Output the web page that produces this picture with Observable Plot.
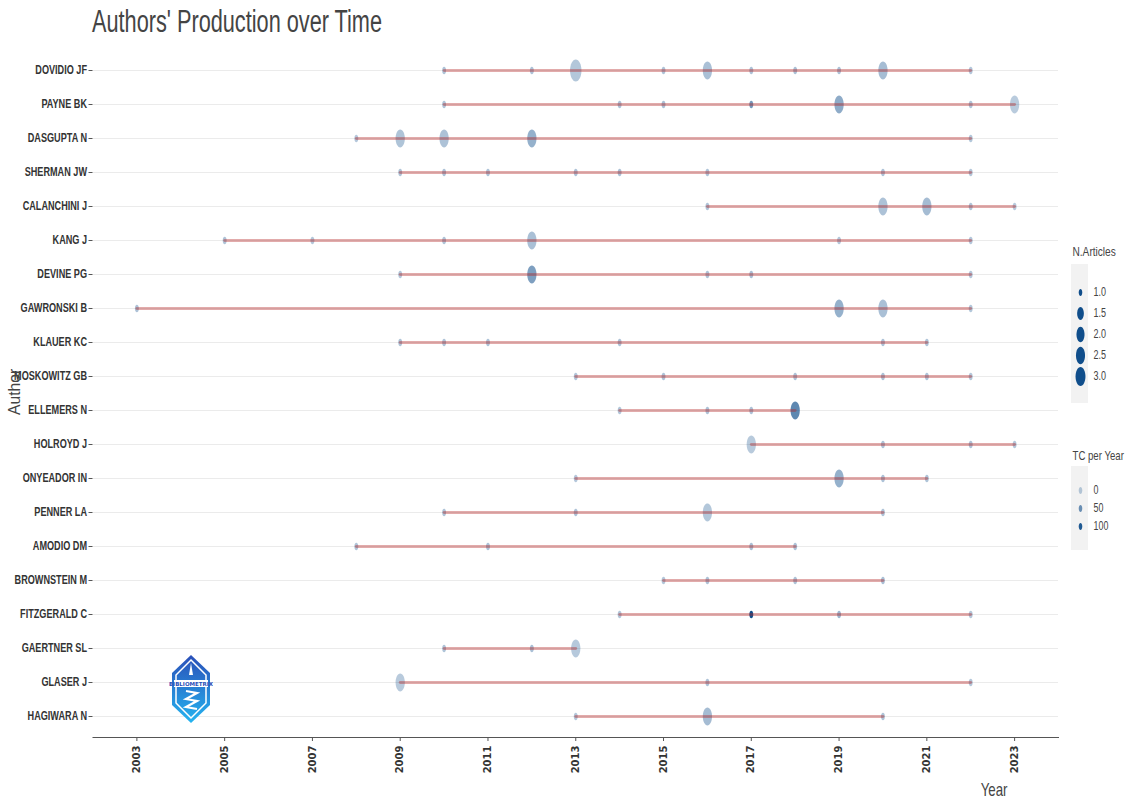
<!DOCTYPE html>
<html>
<head>
<meta charset="utf-8">
<script src="https://cdn.jsdelivr.net/npm/d3@7"></script>
<script src="https://cdn.jsdelivr.net/npm/@observablehq/plot@0.6"></script>
<style>
  body { margin: 0; background: #fff; }
  #wrap { position: relative; width: 1131px; height: 805px; overflow: hidden; }
  #wrap > * { position: absolute; }
  .keybg { background: #f2f2f2; }
</style>
</head>
<body>
<div id="wrap"></div>
<script>
// ---------- data ----------
const authors = ["DOVIDIO JF","PAYNE BK","DASGUPTA N","SHERMAN JW","CALANCHINI J","KANG J","DEVINE PG","GAWRONSKI B","KLAUER KC","MOSKOWITZ GB","ELLEMERS N","HOLROYD J","ONYEADOR IN","PENNER LA","AMODIO DM","BROWNSTEIN M","FITZGERALD C","GAERTNER SL","GLASER J","HAGIWARA N"];
const years = [
  [2010,2012,2013,2015,2016,2017,2018,2019,2020,2022],
  [2010,2014,2015,2017,2019,2022,2023],
  [2008,2009,2010,2012,2022],
  [2009,2010,2011,2013,2014,2016,2020,2022],
  [2016,2020,2021,2022,2023],
  [2005,2007,2010,2012,2019,2022],
  [2009,2012,2016,2017,2022],
  [2003,2019,2020,2022],
  [2009,2010,2011,2014,2020,2021],
  [2013,2015,2018,2020,2021,2022],
  [2014,2016,2017,2018],
  [2017,2020,2022,2023],
  [2013,2019,2020,2021],
  [2010,2013,2016,2020],
  [2008,2011,2017,2018],
  [2015,2016,2018,2020],
  [2014,2017,2019,2022],
  [2010,2012,2013],
  [2009,2016,2022],
  [2013,2016,2020]
];
const nArticles = [
  [1,1,3,1,2,1,1,1,2,1],
  [1,1,1,1,2,1,2],
  [1,2,2,2,1],
  [1,1,1,1,1,1,1,1],
  [1,2,2,1,1],
  [1,1,1,2,1,1],
  [1,2,1,1,1],
  [1,2,2,1],
  [1,1,1,1,1,1],
  [1,1,1,1,1,1],
  [1,1,1,2],
  [2,1,1,1],
  [1,2,1,1],
  [1,1,2,1],
  [1,1,1,1],
  [1,1,1,1],
  [1,1,1,1],
  [1,1,2],
  [2,1,1],
  [1,2,1]
];
const tcPerYear = [
  [8,10,6,9,12,10,12,10,14,5],
  [8,10,12,45,30,8,2],
  [5,8,10,25,6],
  [8,10,9,10,12,9,10,6],
  [8,10,15,8,3],
  [8,6,8,12,6,5],
  [6,40,8,12,5],
  [10,25,12,6],
  [8,8,9,10,10,8],
  [7,9,10,10,9,6],
  [6,10,10,60],
  [3,10,10,6],
  [5,25,10,8],
  [8,10,6,8],
  [8,10,12,10],
  [6,10,10,12],
  [6,110,20,6],
  [8,12,4],
  [3,10,6],
  [6,15,8]
];
const xTicks = [2003,2005,2007,2009,2011,2013,2015,2017,2019,2021,2023];
const sizeLegend = [1.0,1.5,2.0,2.5,3.0];
const tcLegend = [0,50,100];
const titleText = "Authors' Production over Time";

const rows = [];
authors.forEach((a, i) => years[i].forEach((y, j) => rows.push({author: a, year: y, n: nArticles[i][j], tc: tcPerYear[i][j]})));

// ---------- styles ----------
const sans = "'Liberation Sans',Arial,sans-serif";
const dotColor = "#104E8B";
const lineColor = "#B22222";
const ellipse = {
  draw(ctx, size) {
    const r = Math.sqrt(size / Math.PI), rx = r * 0.52, ry = r, k = 0.5523;
    ctx.moveTo(rx, 0);
    ctx.bezierCurveTo(rx, ry * k, rx * k, ry, 0, ry);
    ctx.bezierCurveTo(-rx * k, ry, -rx, ry * k, -rx, 0);
    ctx.bezierCurveTo(-rx, -ry * k, -rx * k, -ry, 0, -ry);
    ctx.bezierCurveTo(rx * k, -ry, rx, -ry * k, rx, 0);
    ctx.closePath();
  }
};
const rSpec = {type: "sqrt", domain: [0, 2], range: [3.8, 11]};
const opSpec = {type: "linear", domain: [0, 110], range: [0.28, 1]};

// horizontally condense text (reference uses a narrow face); runs once in the DOM
function squeeze(nodes, s) {
  nodes.forEach(t => {
    const L = t.getComputedTextLength();
    if (L > 0) { t.setAttribute("textLength", (L * s).toFixed(2)); t.setAttribute("lengthAdjust", "spacingAndGlyphs"); }
  });
}
function textsOf(root, words) {
  return Array.from(root.querySelectorAll("text")).filter(t => words.includes(t.textContent));
}

const wrap = document.getElementById("wrap");
function bg(l, t, w, h) { const d = document.createElement("div"); d.className = "keybg"; Object.assign(d.style, {left: l+"px", top: t+"px", width: w+"px", height: h+"px"}); wrap.appendChild(d); }
bg(1071, 264, 17, 139);
bg(1071, 466, 17, 84);

const W = 1131, H = 805;
const chart = Plot.plot({
  width: W, height: H,
  marginLeft: 92.5, marginRight: 73, marginTop: 48, marginBottom: 68,
  style: {fontFamily: sans, fontSize: "11px", color: "#333", background: "transparent"},
  x: {domain: [2002, 2024]},
  y: {type: "point", domain: authors, range: [69, 716], padding: 0},
  r: rSpec,
  opacity: opSpec,
  marks: [
    Plot.gridY({stroke: "#ebebeb", strokeOpacity: 1, strokeWidth: 1}),
    Plot.frame({anchor: "bottom", stroke: "#555", strokeWidth: 1}),
    Plot.axisY({label: null, tickSize: 4, tickPadding: 2, fontWeight: "bold", fontSize: 12, stroke: "#555", fill: "#333"}),
    Plot.axisX({ticks: xTicks, tickFormat: d => String(d), tickRotate: -90, label: null, tickSize: 4, tickPadding: 4,
      fontWeight: "bold", fontSize: 10, fontFamily: "'DejaVu Sans',sans-serif", stroke: "#555", fill: "#333"}),
    Plot.dot(rows, {x: "year", y: "author", r: d => d.n - 1, fill: dotColor, fillOpacity: "tc", symbol: ellipse, stroke: "none"}),
    Plot.lineX(rows, {x: "year", y: "author", z: "author", stroke: lineColor, strokeOpacity: 0.38, strokeWidth: 2.8}),
    Plot.text([titleText], {frameAnchor: "top-left", lineAnchor: "bottom", dy: -17, dx: -1, fontSize: 31, fill: "#444"}),
    Plot.text(["Author"], {frameAnchor: "left", rotate: -90, dx: -78, dy: 22, fontSize: 17, fill: "#444"}),
    Plot.text(["Year"], {frameAnchor: "bottom-right", dx: -51, dy: 58, fontSize: 19, fill: "#444"})
  ]
});
chart.style.left = "0px"; chart.style.top = "0px";
wrap.appendChild(chart);
squeeze(textsOf(chart, [titleText, "Year"]), 0.7);
squeeze(textsOf(chart, ["Author"]), 0.92);
squeeze(textsOf(chart, authors), 0.76);

// size legend
const leg1 = Plot.plot({
  width: 66, height: 175, margin: 0,
  style: {fontFamily: sans, fontSize: "12px", color: "#333", background: "transparent", overflow: "visible"},
  x: {axis: null},
  y: {type: "point", domain: sizeLegend, range: [50, 158], axis: null},
  r: {type: "sqrt", domain: [0, 2], range: [3.4, 9.5]},
  marks: [
    Plot.dot(sizeLegend, {y: d => d, r: d => d - 1, frameAnchor: "left", dx: 15, fill: dotColor, symbol: ellipse}),
    Plot.text(sizeLegend, {y: d => d, text: d => d.toFixed(1), frameAnchor: "left", dx: 28, textAnchor: "start", fill: "#444"}),
    Plot.text(["N.Articles"], {frameAnchor: "top-left", dx: 7, dy: 16, textAnchor: "start", fontSize: 13.5, fill: "#444"})
  ]
});
leg1.style.left = "1065px"; leg1.style.top = "230px";
wrap.appendChild(leg1);
squeeze(leg1.querySelectorAll("text"), 0.75);

// TC legend
const leg2 = Plot.plot({
  width: 66, height: 120, margin: 0,
  style: {fontFamily: sans, fontSize: "12px", color: "#333", background: "transparent", overflow: "visible"},
  x: {axis: null},
  y: {type: "point", domain: tcLegend, range: [46, 101], axis: null},
  opacity: opSpec,
  marks: [
    Plot.dot(tcLegend, {y: d => d, fillOpacity: d => d, r: 3.4, frameAnchor: "left", dx: 15, fill: dotColor, symbol: ellipse}),
    Plot.text(tcLegend, {y: d => d, text: d => String(d), frameAnchor: "left", dx: 28, textAnchor: "start", fill: "#444"}),
    Plot.text(["TC per Year"], {frameAnchor: "top-left", dx: 7, dy: 16, textAnchor: "start", fontSize: 13, fill: "#444"})
  ]
});
leg2.style.left = "1065px"; leg2.style.top = "434px";
wrap.appendChild(leg2);
squeeze(leg2.querySelectorAll("text"), 0.74);

// decorative logo
const ns = "http://www.w3.org/2000/svg";
const logo = document.createElementNS(ns, "svg");
logo.setAttribute("width", "44"); logo.setAttribute("height", "72");
logo.style.left = "169px"; logo.style.top = "653px";
logo.innerHTML = `<defs><linearGradient id="lg" x1="0" y1="0" x2="0" y2="1"><stop offset="0" stop-color="#2a4fb8"/><stop offset="1" stop-color="#25b4f0"/></linearGradient></defs>
<polygon points="22,2 41,20 41,52 22,70 3,52 3,20" fill="url(#lg)"/>
<polygon points="22,7 37,22 37,50 22,65 7,50 7,22" fill="none" stroke="#fff" stroke-width="1.5"/>
<rect x="5" y="27" width="34" height="7" fill="#fff"/>
<text x="22" y="33" font-size="5.5" font-family="DejaVu Sans" font-weight="bold" fill="#2a4fb8" text-anchor="middle">BIBLIOMETRIX</text>
<path d="M17 38 L28 40 L17 46 L28 48 L17 54 L28 56" fill="none" stroke="#fff" stroke-width="2.2"/>
<path d="M22 10 L24 22 L20 22 Z" fill="#fff"/>`;
wrap.appendChild(logo);
</script>
</body>
</html>
